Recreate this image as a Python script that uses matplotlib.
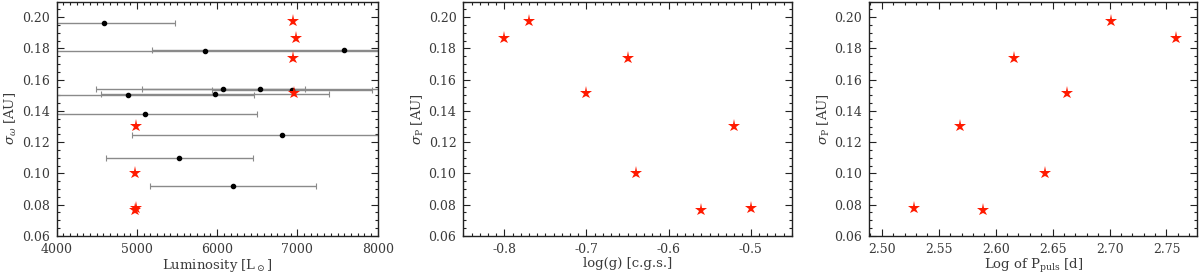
import matplotlib
matplotlib.use('Agg')
import matplotlib.pyplot as plt
from matplotlib.ticker import MultipleLocator, FormatStrFormatter

plt.rcParams['font.family'] = ['DejaVu Serif']
plt.rcParams['mathtext.fontset'] = 'dejavuserif'

# black points with luminosity error bars (first panel)
lum_dots = [4590, 5848, 7580, 6077, 6534, 6930, 5977, 4889, 5097, 6804, 5529, 6201]
sig_dots = [0.1964, 0.1782, 0.1793, 0.1541, 0.1541, 0.1535, 0.1511, 0.1499, 0.1383, 0.1247, 0.1097, 0.0918]
lum_err = [885, 2300, 2396, 1012, 2048, 1000, 1423, 1574, 1395, 1861, 912, 1035]

# red stars
lum_star = [6949, 6982, 6949, 6952, 4989, 4980, 4976, 4985]
logg_star = [-0.77, -0.80, -0.65, -0.70, -0.52, -0.64, -0.56, -0.50]
logp_star = [2.701, 2.758, 2.616, 2.663, 2.569, 2.643, 2.589, 2.528]
sig_star = [0.1977, 0.1870, 0.1742, 0.1514, 0.1302, 0.1005, 0.0768, 0.0777]

txt = '#3a3a3a'
star_col = '#ff1a00'

fig = plt.figure(figsize=(12, 2.78), dpi=100)
ax1 = fig.add_axes([0.0472, 0.152, 0.2675, 0.842])
ax2 = fig.add_axes([0.3861, 0.152, 0.2737, 0.842])
ax3 = fig.add_axes([0.7244, 0.152, 0.2733, 0.842])

ax1.errorbar(lum_dots, sig_dots, xerr=lum_err, fmt='o', color='black', ms=3,
             ecolor='#8a8a8a', elinewidth=1.0, capsize=2, capthick=0.8, zorder=2)
ax1.plot(lum_star, sig_star, '*', color=star_col, ms=9.5, mew=0, zorder=3)
ax2.plot(logg_star, sig_star, '*', color=star_col, ms=9.5, mew=0)
ax3.plot(logp_star, sig_star, '*', color=star_col, ms=9.5, mew=0)

ax1.set_xlim(4000, 8000)
ax1.xaxis.set_major_locator(MultipleLocator(1000))
ax1.xaxis.set_minor_locator(MultipleLocator(1000 / 12))
ax1.set_xlabel(r'Luminosity [L$_\odot$]', color=txt, fontsize=9.5)
ax1.set_ylabel(r'$\sigma_\omega$ [AU]', color=txt, fontsize=9.5)

ax2.set_xlim(-0.85, -0.45)
ax2.xaxis.set_major_locator(MultipleLocator(0.1))
ax2.xaxis.set_minor_locator(MultipleLocator(0.01))
ax2.xaxis.set_major_formatter(FormatStrFormatter('%.1f'))
ax2.set_xlabel('log(g) [c.g.s.]', color=txt, fontsize=9.5)
ax2.set_ylabel(r'$\sigma_{\rm P}$ [AU]', color=txt, fontsize=9.5)

ax3.set_xlim(2.489, 2.777)
ax3.xaxis.set_major_locator(MultipleLocator(0.05))
ax3.xaxis.set_minor_locator(MultipleLocator(0.01))
ax3.xaxis.set_major_formatter(FormatStrFormatter('%.2f'))
ax3.set_xlabel(r'Log of P$_{\rm puls}$ [d]', color=txt, fontsize=9.5)
ax3.set_ylabel(r'$\sigma_{\rm P}$ [AU]', color=txt, fontsize=9.5)

for ax in (ax1, ax2, ax3):
    ax.set_ylim(0.06, 0.21)
    ax.yaxis.set_major_locator(MultipleLocator(0.02))
    ax.yaxis.set_minor_locator(MultipleLocator(0.005))
    ax.yaxis.set_major_formatter(FormatStrFormatter('%.2f'))
    ax.tick_params(which='both', direction='in', top=True, right=True,
                   labelsize=9, labelcolor=txt, color='#222222', width=0.8)
    ax.tick_params(which='major', length=5, pad=5)
    ax.tick_params(which='minor', length=2.5)
    for s in ax.spines.values():
        s.set_linewidth(1.0)
        s.set_color('#222222')
    ax.xaxis.labelpad = 1
    ax.yaxis.labelpad = 2

fig.savefig('out.png', dpi=100)
